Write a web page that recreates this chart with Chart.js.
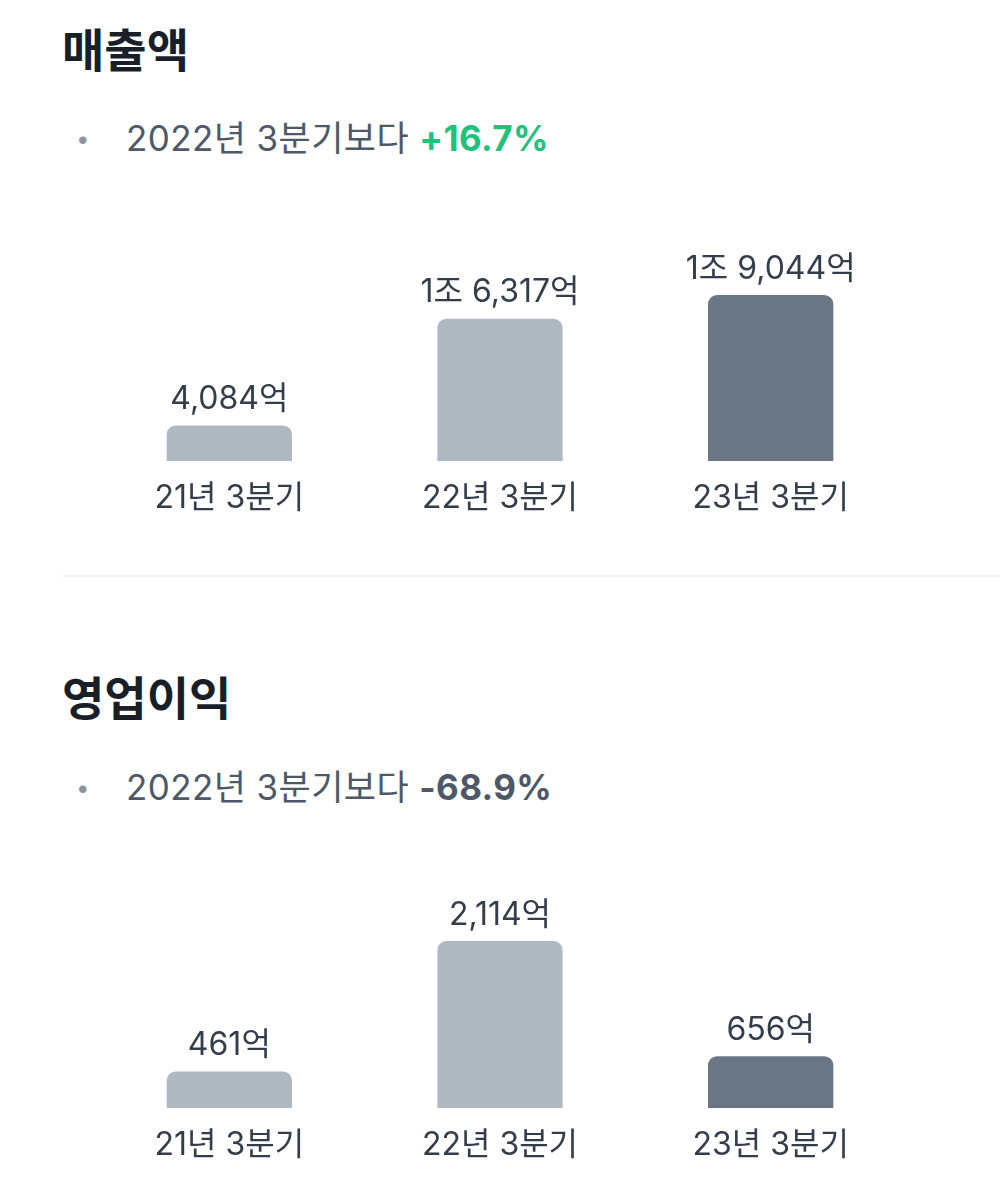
<!DOCTYPE html>
<html><head><meta charset="utf-8">
<script src="https://cdn.jsdelivr.net/npm/chart.js@4"></script>
<style>
body{margin:0;width:1000px;height:1196px;background:#fff;position:relative;overflow:hidden;font-family:"Inter","Noto Sans CJK KR",sans-serif;}
.t{position:absolute;left:62px;font-size:46px;font-weight:700;color:#191f28;line-height:1;}
.s{position:absolute;left:126px;font-size:35px;color:#4e5968;line-height:1;letter-spacing:0.4px;}
.s:before{content:"•";position:absolute;left:-50px;color:#8b95a1;font-size:24px;top:6px;}
.hr{position:absolute;left:62px;right:0;top:575px;height:2px;background:#f2f4f6;}
.c{position:absolute;left:94px;width:812px;height:300px;}
</style></head><body>
<div class="t" style="top:27px">매출액</div>
<div class="s" style="top:121px">2022년 3분기보다 <b style="color:#1fc17b">+16.7%</b></div>
<div class="hr"></div>
<div class="t" style="top:675px">영업이익</div>
<div class="s" style="top:770px">2022년 3분기보다 <b style="color:#4e5968">-68.9%</b></div>
<div class="c" style="top:230px"><canvas id="c1"></canvas></div>
<div class="c" style="top:860px"><canvas id="c2"></canvas></div>
<script>
const categories=["21년 3분기","22년 3분기","23년 3분기"];
const revenue=[4084,16317,19044];
const revenueLabels=["4,084억","1조 6,317억","1조 9,044억"];
const profit=[461,2114,656];
const profitLabels=["461억","2,114억","656억"];
const colors=["#b0b8c1","#b0b8c1","#6b7684"];
function mk(id,data,vlabels,max,padB){
  new Chart(document.getElementById(id),{
    type:'bar',
    data:{labels:categories,datasets:[{data:data,backgroundColor:colors,borderRadius:{topLeft:9,topRight:9},borderSkipped:'bottom',barPercentage:0.463,categoryPercentage:1}]},
    options:{responsive:true,maintainAspectRatio:false,animation:false,
      layout:{padding:{top:0,bottom:padB}},
      plugins:{legend:{display:false},tooltip:{enabled:false}},
      scales:{x:{display:false},y:{display:false,min:0,max:max}}},
    plugins:[{id:'lbl',afterDatasetsDraw(ch){
      const ctx=ch.ctx,meta=ch.getDatasetMeta(0);
      ctx.save();ctx.font='32px Inter, "Noto Sans CJK KR"';ctx.fillStyle='#333d4b';ctx.textAlign='center';
      meta.data.forEach((b,i)=>{
        ctx.textBaseline='bottom';ctx.fillText(vlabels[i],b.x,b.y-10);
        ctx.textBaseline='middle';ctx.fillText(categories[i],b.x,ch.chartArea.bottom+37);
      });ctx.restore();}}]
  });
}
mk('c1',revenue,revenueLabels,26500,69);
mk('c2',profit,profitLabels,3140,52);
</script></body></html>
